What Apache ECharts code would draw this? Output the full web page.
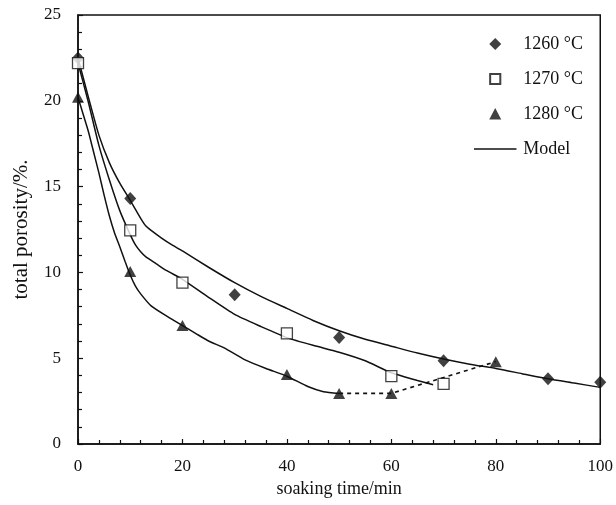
<!DOCTYPE html>
<html>
<head>
<meta charset="utf-8">
<script src="https://cdn.jsdelivr.net/npm/echarts@6/dist/echarts.min.js"></script>
<style>html,body{margin:0;padding:0;background:#fff}#c{width:616px;height:505px}</style>
</head>
<body>
<div id="c"></div>
<script>
// measured data [time (min), porosity (%)]
var s1260 = [[0,22.5],[10,14.3],[30,8.7],[50,6.2],[70,4.85],[90,3.8],[100,3.6]];
var s1270 = [[0,22.2],[10,12.45],[20,9.4],[40,6.45],[60,3.95],[70,3.5]];
var s1280 = [[0,20.2],[10,10.05],[20,6.9],[40,4.05],[50,2.95],[60,2.95],[80,4.8]];
// model curves
var model1260 = [[0,22.5],[2,20.2],[4,18.0],[6,16.4],[8,15.2],[10,14.2],[12,13.15],[13,12.7],[14,12.45],[16,12.0],[18,11.6],[20,11.25],[25,10.3],[30,9.4],[35,8.6],[40,7.9],[45,7.2],[50,6.6],[55,6.1],[60,5.7],[65,5.3],[70,4.95],[75,4.65],[80,4.4],[85,4.1],[90,3.8],[95,3.55],[100,3.3]];
var model1270 = [[0,22.2],[2,19.9],[4,17.4],[6,15.4],[8,13.6],[10,12.2],[11,11.6],[12,11.2],[13,10.9],[15,10.5],[17,10.1],[20,9.6],[25,8.55],[30,7.55],[35,6.85],[40,6.2],[45,5.75],[50,5.35],[55,4.85],[60,4.15],[65,3.7],[68,3.45]];
var model1280 = [[0,20.2],[1,19.2],[2,18.2],[3,17.0],[4,15.8],[5,14.5],[6,13.3],[7,12.3],[8,11.5],[9,10.65],[10,9.85],[11,9.2],[12,8.75],[14,8.05],[17,7.45],[20,6.9],[22.5,6.45],[25,6.0],[28,5.6],[32,4.9],[36,4.4],[40,3.95],[44,3.35],[47,3.05],[50,2.95]];
var dotted1280 = [[50,2.95],[60,2.95],[80,4.8]];
var legendNames = ['1260 °C','1270 °C','1280 °C','Model'];
var xTitle = 'soaking time/min';
var yTitle = 'total porosity/%.';

var INK = '#111';
var FONT = 'Liberation Serif';
var chart = echarts.init(document.getElementById('c'), null, {renderer:'canvas'});

// legend icons: invisible moveTo points give each icon the full item box so the mark stays small and centred
var BOX = 'M0 -6.5M46 6.5';
var legendIcons = [
  'path://' + BOX + 'M16.5 0L23 -6.5L29.5 0L23 6.5Z',
  'path://' + BOX + 'M17.5 -5.5L28.5 -5.5L28.5 5.5L17.5 5.5Z',
  'path://' + BOX + 'M23 -6.5L29.5 6L16.5 6Z',
  'path://' + BOX + 'M0 -0.7L46 -0.7L46 0.7L0 0.7Z'
];

function modelSeries(d){
  return {name:'Model', type:'line', data:d, smooth:0.2, symbol:'none', showSymbol:false,
    lineStyle:{color:INK, width:1.5}, itemStyle:{color:INK}, z:2, silent:true};
}

chart.setOption({
  animation:false,
  backgroundColor:'#fff',
  grid:{left:78, right:15, top:15, bottom:61, show:true, borderColor:INK, borderWidth:1.5, containLabel:false},
  legend:{
    data:legendNames.map(function(n,i){ return {name:n, icon:legendIcons[i]}; }),
    orient:'vertical', left:468, top:30,
    itemWidth:46, itemHeight:12, itemGap:17,
    textStyle:{fontFamily:FONT, fontSize:18, lineHeight:18, color:INK},
    selectedMode:false
  },
  xAxis:{
    type:'value', min:0, max:100, interval:20,
    name:xTitle, nameLocation:'middle', nameGap:34,
    nameTextStyle:{fontFamily:FONT, fontSize:18, color:INK},
    axisLine:{show:true, lineStyle:{color:INK, width:1.5}},
    axisTick:{show:true, inside:true, length:5, lineStyle:{color:INK, width:1.2}},
    minorTick:{show:true, splitNumber:5, length:4, lineStyle:{color:INK, width:1.2}},
    axisLabel:{fontFamily:FONT, fontSize:17, color:INK, margin:14},
    splitLine:{show:false}
  },
  yAxis:{
    type:'value', min:0, max:25, interval:5,
    name:yTitle, nameLocation:'middle', nameGap:46, nameRotate:90,
    nameTextStyle:{fontFamily:FONT, fontSize:21, color:INK},
    axisLine:{show:true, lineStyle:{color:INK, width:1.5}},
    axisTick:{show:true, inside:true, length:5, lineStyle:{color:INK, width:1.2}},
    minorTick:{show:true, splitNumber:5, length:4, lineStyle:{color:INK, width:1.2}},
    axisLabel:{fontFamily:FONT, fontSize:17, color:INK, margin:17},
    splitLine:{show:false}
  },
  series:[
    modelSeries(model1260),
    modelSeries(model1270),
    modelSeries(model1280),
    {name:'dotted', type:'line', data:dotted1280, symbol:'none',
      lineStyle:{color:INK, width:1.6, type:[4,4]}, z:2, silent:true},
    {name:'1260 °C', type:'scatter', data:s1260, symbol:'diamond', symbolSize:[12,13], clip:false,
      itemStyle:{color:INK}, z:3},
    {name:'1270 °C', type:'scatter', data:s1270, symbol:'rect', symbolSize:11, clip:false,
      itemStyle:{color:'#fff', borderColor:INK, borderWidth:1.3}, z:4},
    {name:'1280 °C', type:'scatter', data:s1280, symbol:'triangle', symbolSize:[12,11], clip:false,
      itemStyle:{color:INK}, z:5}
  ]
});
</script>
</body>
</html>
